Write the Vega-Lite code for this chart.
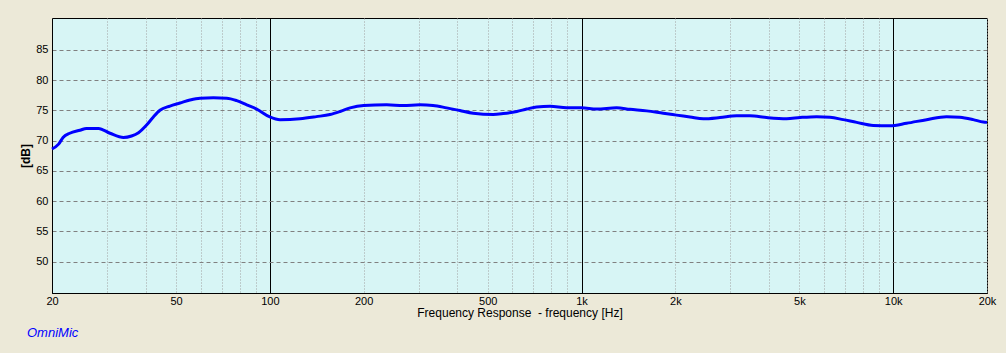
{
  "$schema": "https://vega.github.io/schema/vega-lite/v6.json",
  "width": 935,
  "height": 275,
  "autosize": {"type": "none"},
  "padding": {"left": 52, "top": 18, "right": 19, "bottom": 60},
  "background": "#ECE9D8",
  "config": {
    "view": {"stroke": "#000000", "strokeWidth": 1, "fill": "#D7F5F5"},
    "font": "Liberation Sans",
    "axis": {"labelFont": "Liberation Sans", "titleFont": "Liberation Sans", "labelColor": "#000000", "titleColor": "#000000", "labelFontSize": 11, "titleFontSize": 12}
  },
  "title": {
    "text": "OmniMic",
    "orient": "bottom",
    "anchor": "start",
    "frame": "group",
    "dx": -25,
    "offset": 9,
    "color": "#0000FF",
    "font": "Liberation Sans",
    "fontStyle": "italic",
    "fontWeight": "normal",
    "fontSize": 13
  },
  "data": {
    "values": [
      {"f": 20, "db": 68.6}, {"f": 21, "db": 69.4}, {"f": 21.7, "db": 70.5}, {"f": 22.8, "db": 71.2},
      {"f": 24.6, "db": 71.7}, {"f": 25.8, "db": 72.0}, {"f": 28.2, "db": 72.0}, {"f": 30.7, "db": 71.2},
      {"f": 33.9, "db": 70.5}, {"f": 36, "db": 70.75}, {"f": 37.9, "db": 71.3}, {"f": 40.3, "db": 72.6},
      {"f": 42.3, "db": 73.9}, {"f": 44.4, "db": 75.0}, {"f": 47.8, "db": 75.7}, {"f": 51.5, "db": 76.2},
      {"f": 55.4, "db": 76.7}, {"f": 59.7, "db": 77.0}, {"f": 65.9, "db": 77.05}, {"f": 72.7, "db": 77.0},
      {"f": 78.3, "db": 76.6}, {"f": 84.3, "db": 75.9}, {"f": 90.7, "db": 75.2}, {"f": 100, "db": 73.9},
      {"f": 107.8, "db": 73.45}, {"f": 125, "db": 73.6}, {"f": 141, "db": 73.95}, {"f": 156, "db": 74.3},
      {"f": 168, "db": 74.8}, {"f": 181, "db": 75.4}, {"f": 200, "db": 75.8}, {"f": 237, "db": 75.9},
      {"f": 268, "db": 75.8}, {"f": 303, "db": 75.9}, {"f": 334, "db": 75.8}, {"f": 369, "db": 75.4},
      {"f": 407, "db": 74.95}, {"f": 449, "db": 74.5}, {"f": 521, "db": 74.3}, {"f": 561, "db": 74.45},
      {"f": 620, "db": 74.8}, {"f": 667, "db": 75.2}, {"f": 718, "db": 75.55}, {"f": 793, "db": 75.65},
      {"f": 896, "db": 75.4}, {"f": 1000, "db": 75.4}, {"f": 1118, "db": 75.2}, {"f": 1296, "db": 75.4},
      {"f": 1430, "db": 75.15}, {"f": 1618, "db": 74.9}, {"f": 1829, "db": 74.5}, {"f": 2018, "db": 74.2},
      {"f": 2229, "db": 73.9}, {"f": 2459, "db": 73.6}, {"f": 2781, "db": 73.8}, {"f": 3145, "db": 74.1},
      {"f": 3471, "db": 74.1}, {"f": 3926, "db": 73.8}, {"f": 4551, "db": 73.6}, {"f": 5023, "db": 73.8},
      {"f": 5680, "db": 73.95}, {"f": 6268, "db": 73.85}, {"f": 6917, "db": 73.45}, {"f": 7636, "db": 73.0},
      {"f": 8630, "db": 72.5}, {"f": 9763, "db": 72.45}, {"f": 11040, "db": 72.85}, {"f": 12800, "db": 73.45},
      {"f": 14830, "db": 73.95}, {"f": 16370, "db": 73.85}, {"f": 18070, "db": 73.45}, {"f": 19460, "db": 73.05},
      {"f": 20000, "db": 73.0}
    ]
  },
  "mark": {"type": "line", "color": "#0000FF", "strokeWidth": 3, "interpolate": "monotone"},
  "encoding": {
    "x": {
      "field": "f",
      "type": "quantitative",
      "scale": {"type": "log", "domain": [20, 20000], "nice": false},
      "axis": {
        "title": "Frequency Response \u00a0- frequency [Hz]",
        "titleFontWeight": "normal",
        "titlePadding": 1,
        "values": [20, 30, 40, 50, 60, 70, 80, 90, 100, 200, 300, 400, 500, 600, 700, 800, 900, 1000, 2000, 3000, 4000, 5000, 6000, 7000, 8000, 9000, 10000, 20000],
        "labelExpr": "indexof([20,50,100,200,500,1000,2000,5000,10000,20000], datum.value) >= 0 ? (datum.value >= 1000 ? (datum.value / 1000) + 'k' : datum.value + '') : ''",
        "labelOverlap": false,
        "labelFlush": false,
        "labelPadding": 2,
        "tickSize": 0,
        "domain": true,
        "domainColor": "#000000",
        "grid": true,
        "gridOpacity": 1,
        "gridWidth": 1,
        "gridColor": {"condition": {"test": "datum.value == 100 || datum.value == 1000 || datum.value == 10000", "value": "#000000"}, "value": "#A0A0A0"},
        "gridDash": {"condition": {"test": "datum.value == 100 || datum.value == 1000 || datum.value == 10000", "value": []}, "value": [1, 2]}
      }
    },
    "y": {
      "field": "db",
      "type": "quantitative",
      "scale": {"domain": [44.8, 90.25], "nice": false, "zero": false},
      "axis": {
        "title": "[dB]",
        "titleFontWeight": "bold",
        "titlePadding": 3,
        "values": [50, 55, 60, 65, 70, 75, 80, 85],
        "labelPadding": 4,
        "tickSize": 0,
        "domain": true,
        "domainColor": "#000000",
        "grid": true,
        "gridColor": "#808080",
        "gridOpacity": 1,
        "gridDash": [4, 3]
      }
    }
  }
}
